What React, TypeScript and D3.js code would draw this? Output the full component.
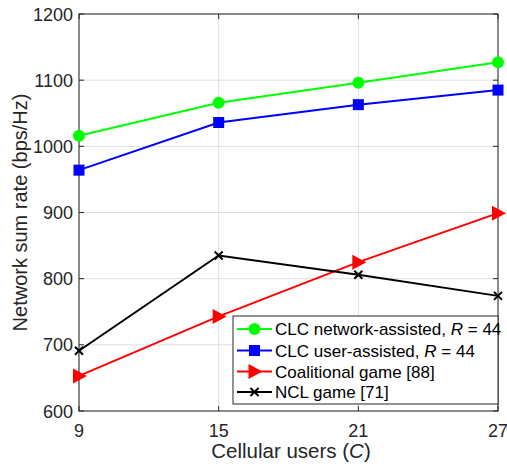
import React from "react";
import * as d3 from "d3";

const users = [9, 15, 21, 27];
const clcNetwork = [1016, 1066, 1096, 1127];
const clcUser = [964, 1036, 1063, 1085];
const coalitional = [653, 743, 825, 899];
const ncl = [691, 835, 806, 774];
const yTicks = [600, 700, 800, 900, 1000, 1100, 1200];
const xTicks = [9, 15, 21, 27];

const series = [
  { name: "CLC network-assisted, ", r: true, values: clcNetwork, color: "#00ff00", marker: "circle" },
  { name: "CLC user-assisted, ", r: true, values: clcUser, color: "#0000ff", marker: "square" },
  { name: "Coalitional game [88]", r: false, values: coalitional, color: "#ff0000", marker: "triangle" },
  { name: "NCL game [71]", r: false, values: ncl, color: "#000000", marker: "x" },
];

const W = 507, H = 468;
const L = 79, R = 498, T = 14, B = 411;
const font = "Liberation Sans, Arial, Helvetica, sans-serif";
const textColor = "#262626";

function Marker({ type, x, y, color }: { type: string; x: number; y: number; color: string }) {
  if (type === "circle") return <circle cx={x} cy={y} r={6} fill={color} />;
  if (type === "square") return <rect x={x - 5.5} y={y - 5.5} width={11} height={11} fill={color} />;
  if (type === "triangle")
    return <path d={`M${x - 6},${y - 7.5}L${x + 8},${y}L${x - 6},${y + 7.5}Z`} fill={color} />;
  return (
    <path d={`M${x - 4},${y - 4}L${x + 4},${y + 4}M${x - 4},${y + 4}L${x + 4},${y - 4}`} stroke={color} strokeWidth={2} />
  );
}

export default function App() {
  const x = d3.scaleLinear().domain([9, 27]).range([L, R]);
  const y = d3.scaleLinear().domain([600, 1200]).range([B, T]);
  const line = d3.line<number>().x((_, i) => x(users[i])).y((v) => y(v));

  const legX = 233, legY = 316, legW = 265, legH = 88;
  const rowY = [329, 350.5, 371.5, 392];

  return (
    <svg width={W} height={H} style={{ position: "absolute", left: 0, top: 0, background: "#fff" }}>
      <rect x={0} y={0} width={W} height={H} fill="#fff" />
      {yTicks.map((t) => (
        <line key={"gy" + t} x1={L} x2={R} y1={y(t)} y2={y(t)} stroke="#dfdfdf" strokeWidth={1} />
      ))}
      {xTicks.map((t) => (
        <line key={"gx" + t} x1={x(t)} x2={x(t)} y1={T} y2={B} stroke="#dfdfdf" strokeWidth={1} />
      ))}
      {yTicks.map((t) => (
        <g key={"ty" + t}>
          <line x1={L} x2={L + 5} y1={y(t)} y2={y(t)} stroke={textColor} />
          <line x1={R} x2={R - 5} y1={y(t)} y2={y(t)} stroke={textColor} />
          <text x={L - 6} y={y(t) + 6.5} textAnchor="end" fontFamily={font} fontSize={18} fill={textColor}>
            {t}
          </text>
        </g>
      ))}
      {xTicks.map((t) => (
        <g key={"tx" + t}>
          <line x1={x(t)} x2={x(t)} y1={B} y2={B - 5} stroke={textColor} />
          <line x1={x(t)} x2={x(t)} y1={T} y2={T + 5} stroke={textColor} />
          <text x={x(t)} y={437} textAnchor="middle" fontFamily={font} fontSize={18} fill={textColor}>
            {t}
          </text>
        </g>
      ))}
      <rect x={L} y={T} width={R - L} height={B - T} fill="none" stroke={textColor} strokeWidth={1} />
      {series.map((s) => (
        <g key={s.name}>
          <path d={line(s.values) || ""} fill="none" stroke={s.color} strokeWidth={2} />
          {s.values.map((v, i) => (
            <Marker key={i} type={s.marker} x={x(users[i])} y={y(v)} color={s.color} />
          ))}
        </g>
      ))}
      <text x={291} y={458} textAnchor="middle" fontFamily={font} fontSize={20.5} fill={textColor}>
        Cellular users (<tspan fontStyle="italic">C</tspan>)
      </text>
      <text
        transform={`translate(27,${(T + B) / 2}) rotate(-90)`}
        textAnchor="middle"
        fontFamily={font}
        fontSize={20}
        fill={textColor}
      >
        Network sum rate (bps/Hz)
      </text>
      <rect x={legX} y={legY} width={legW} height={legH} fill="#fff" stroke={textColor} strokeWidth={1} />
      {series.map((s, i) => (
        <g key={"leg" + i}>
          <line x1={237} x2={272} y1={rowY[i]} y2={rowY[i]} stroke={s.color} strokeWidth={2} />
          <Marker type={s.marker} x={254.5} y={rowY[i]} color={s.color} />
          <text x={275} y={rowY[i] + 6} fontFamily={font} fontSize={17} fill="#000">
            {s.name}
            {s.r ? (
              <>
                <tspan fontStyle="italic">R</tspan> = 44
              </>
            ) : null}
          </text>
        </g>
      ))}
    </svg>
  );
}
